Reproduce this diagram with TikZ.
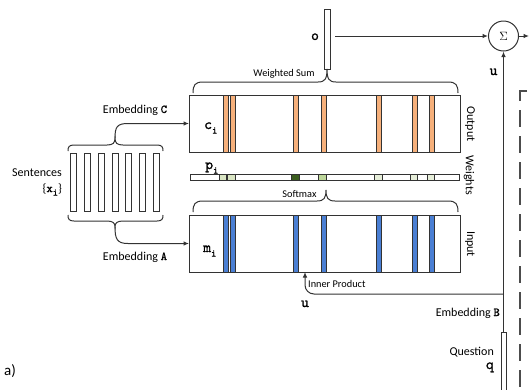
\documentclass[tikz,border=0pt]{standalone}
\usepackage{fontspec}
\setmainfont{Carlito}
\newfontfamily\mb[FakeBold=1.3]{lmmono10-regular.otf}
\usetikzlibrary{arrows.meta}
\definecolor{orangeC}{HTML}{F6B07B}
\definecolor{blueM}{HTML}{4A7FD4}
\definecolor{gDark}{HTML}{3B5E1F}
\definecolor{gMid}{HTML}{BDD69A}
\definecolor{gLight}{HTML}{D9E5C3}
\definecolor{gPale}{HTML}{E6EED9}
\definecolor{lineC}{HTML}{333333}
\newcommand{\mbsub}[2]{{\mb #1}\raisebox{-0.3em}{\fontsize{10}{10}\selectfont\mb #2}}
\begin{document}
\begin{tikzpicture}[x=1pt,y=-1pt,
  ln/.style={draw=lineC, line width=1pt},
  arr/.style={ln, -{Latex[length=5.5pt,width=4.5pt]}},
  box/.style={draw=lineC, line width=0.9pt, inner sep=0pt, outer sep=0pt},
  lbl/.style={font=\fontsize{12}{14}\selectfont, inner sep=0pt},
  sm/.style={font=\fontsize{10.3}{12}\selectfont, inner sep=0pt},
  mono/.style={font=\fontsize{15}{15}\selectfont\mb, inner sep=0pt},
  rot/.style={lbl, rotate=-90},
  ostripe/.style={draw=lineC, line width=0.8pt, fill=orangeC},
  bstripe/.style={draw=lineC, line width=0.8pt, fill=blueM},
  wsq/.style={draw=lineC, line width=0.7pt},
  sent/.style={box, minimum width=6pt, minimum height=58pt, anchor=north west}
]
\clip (0,0) rectangle (529,389);
\fill[white] (0,0) rectangle (529,389);

% sentences
\foreach \i/\xx in {1/70,2/84,3/98,4/112,5/125,6/139,7/153}
  \node[sent] (s\i) at (\xx,153) {};
\node[lbl, anchor=base east] (sentlbl) at (62,176) {Sentences};
\node[lbl, anchor=base east] (xlbl) at (62,192) {\{\mbsub{x}{i}\}};

% braces around sentences
\draw[ln] (68,151) .. controls (68,147) and (69,145) .. (74,145) -- (107,145)
  .. controls (113,145) and (115,143) .. (115,138)
  .. controls (115,143) and (117,145) .. (123,145) -- (157,145)
  .. controls (162,145) and (163,147) .. (163,151);
\draw[ln] (68,215) .. controls (68,219) and (69,221) .. (74,221) -- (107,221)
  .. controls (113,221) and (115,223) .. (115,227)
  .. controls (115,223) and (117,221) .. (123,221) -- (157,221)
  .. controls (162,221) and (163,219) .. (163,215);

% output / input boxes
\node[box, minimum width=271pt, minimum height=57pt, anchor=north west] (outbox) at (189,95) {};
\node[box, minimum width=271pt, minimum height=57pt, anchor=north west] (inbox) at (189,215) {};
\node[box, minimum width=269pt, minimum height=6.5pt, anchor=north west] (wbar) at (190,174) {};

\foreach \a in {223,230.5,293,321,376,412,429}{
  \draw[ostripe] (\a,95) rectangle (\a+5,152);
  \draw[bstripe] (\a,215) rectangle (\a+5,272);
}
\draw[wsq, fill=gLight] (219,174) rectangle (226.5,180.5);
\draw[wsq, fill=gLight] (227.5,174) rectangle (235,180.5);
\draw[wsq, fill=gDark] (291,174) rectangle (299,180.5);
\draw[wsq, fill=gMid] (318.5,174) rectangle (326.5,180.5);
\draw[wsq, fill=gPale] (374,174) rectangle (382,180.5);
\draw[wsq, fill=gPale] (410,174) rectangle (417.5,180.5);
\draw[wsq, fill=gPale] (427,174) rectangle (434.5,180.5);

\node[mono, anchor=base west] (clbl) at (204,129) {\mbsub{c}{i}};
\node[mono, anchor=base west] (mlbl) at (203,252) {\mbsub{m}{i}};
\node[mono, anchor=base west] (plbl) at (205,169) {\mbsub{p}{i}};

% embedding arrows
\draw[arr] (115,138) .. controls (115,127) and (117,123.5) .. (128,123.5) -- (outbox.west);
\draw[arr] (115,227) .. controls (115,239) and (117,243.5) .. (128,243.5) -- (inbox.west);
\node[lbl, anchor=base] (embC) at (135,113) {Embedding {\mb C}};
\node[lbl, anchor=base] (embA) at (135,260) {Embedding {\mb A}};

% o bar and weighted-sum brace
\node[box, minimum width=6pt, minimum height=60pt, anchor=north] (obar) at (327,9) {};
\draw[ln] (193,93) .. controls (193,85) and (195,82) .. (203,82) -- (318,82)
  .. controls (325,82) and (327,79) .. (obar.south)
  .. controls (327,79) and (329,82) .. (336,82) -- (448,82)
  .. controls (456,82) and (458,85) .. (458,93);
\node[sm, anchor=base] (wslbl) at (284,76) {Weighted Sum};
\node[mono, anchor=base] (olbl) at (315,40) {o};

% softmax brace
\draw[ln] (193,212) .. controls (193,204) and (195,201) .. (203,201) -- (317,201)
  .. controls (324,201) and (326,198) .. (326,190)
  .. controls (326,198) and (328,201) .. (335,201) -- (448,201)
  .. controls (456,201) and (458,204) .. (458,212);
\node[sm, anchor=base] (smlbl) at (299.5,197) {Softmax};

% side labels
\node[rot] (outlbl) at (470,124) {Output};
\node[rot] (wlbl) at (469,175) {Weights};
\node[rot] (inlbl) at (470,244) {Input};

% sum
\node[circle, draw=lineC, line width=1pt, minimum size=30pt, inner sep=0pt,
  font=\fontsize{13}{13}\selectfont] (sum) at (503.5,36) {$\Sigma$};
\coordinate (oout) at (335,36);
\draw[arr] (oout) -- (sum.west);
\coordinate (rightend) at (529,36);
\draw[arr] (sum.east) -- (rightend);

% question
\node[box, minimum width=5pt, minimum height=80pt, anchor=north] (qbar) at (503.5,332) {};
\draw[arr] (qbar.north) -- (sum.south);
\coordinate (br) at (503.5,294);
\draw[arr, rounded corners=9pt] (br) -| ([xshift=116pt]inbox.south west);
\node[sm, anchor=base west] (iplbl) at (308,287) {Inner Product};
\node[mono, anchor=base] (ulbl) at (305,307) {u};
\node[mono, anchor=base] (ulbl2) at (493.5,75) {u};
\node[lbl, anchor=base east] (embB) at (500,316) {Embedding {\mb B}};
\node[lbl, anchor=base east] (qlbl) at (494,355) {Question};
\node[mono, anchor=base east] (qq) at (494,369) {q};

% dashed border
\draw[draw=black!70, line width=1.6pt, dash pattern=on 17pt off 9pt] (527,91) -- (520,91) -- (520,400);

\node[font=\fontsize{15}{15}\selectfont, inner sep=0pt, anchor=base west] (alabel) at (4,375) {a)};
\end{tikzpicture}
\end{document}
